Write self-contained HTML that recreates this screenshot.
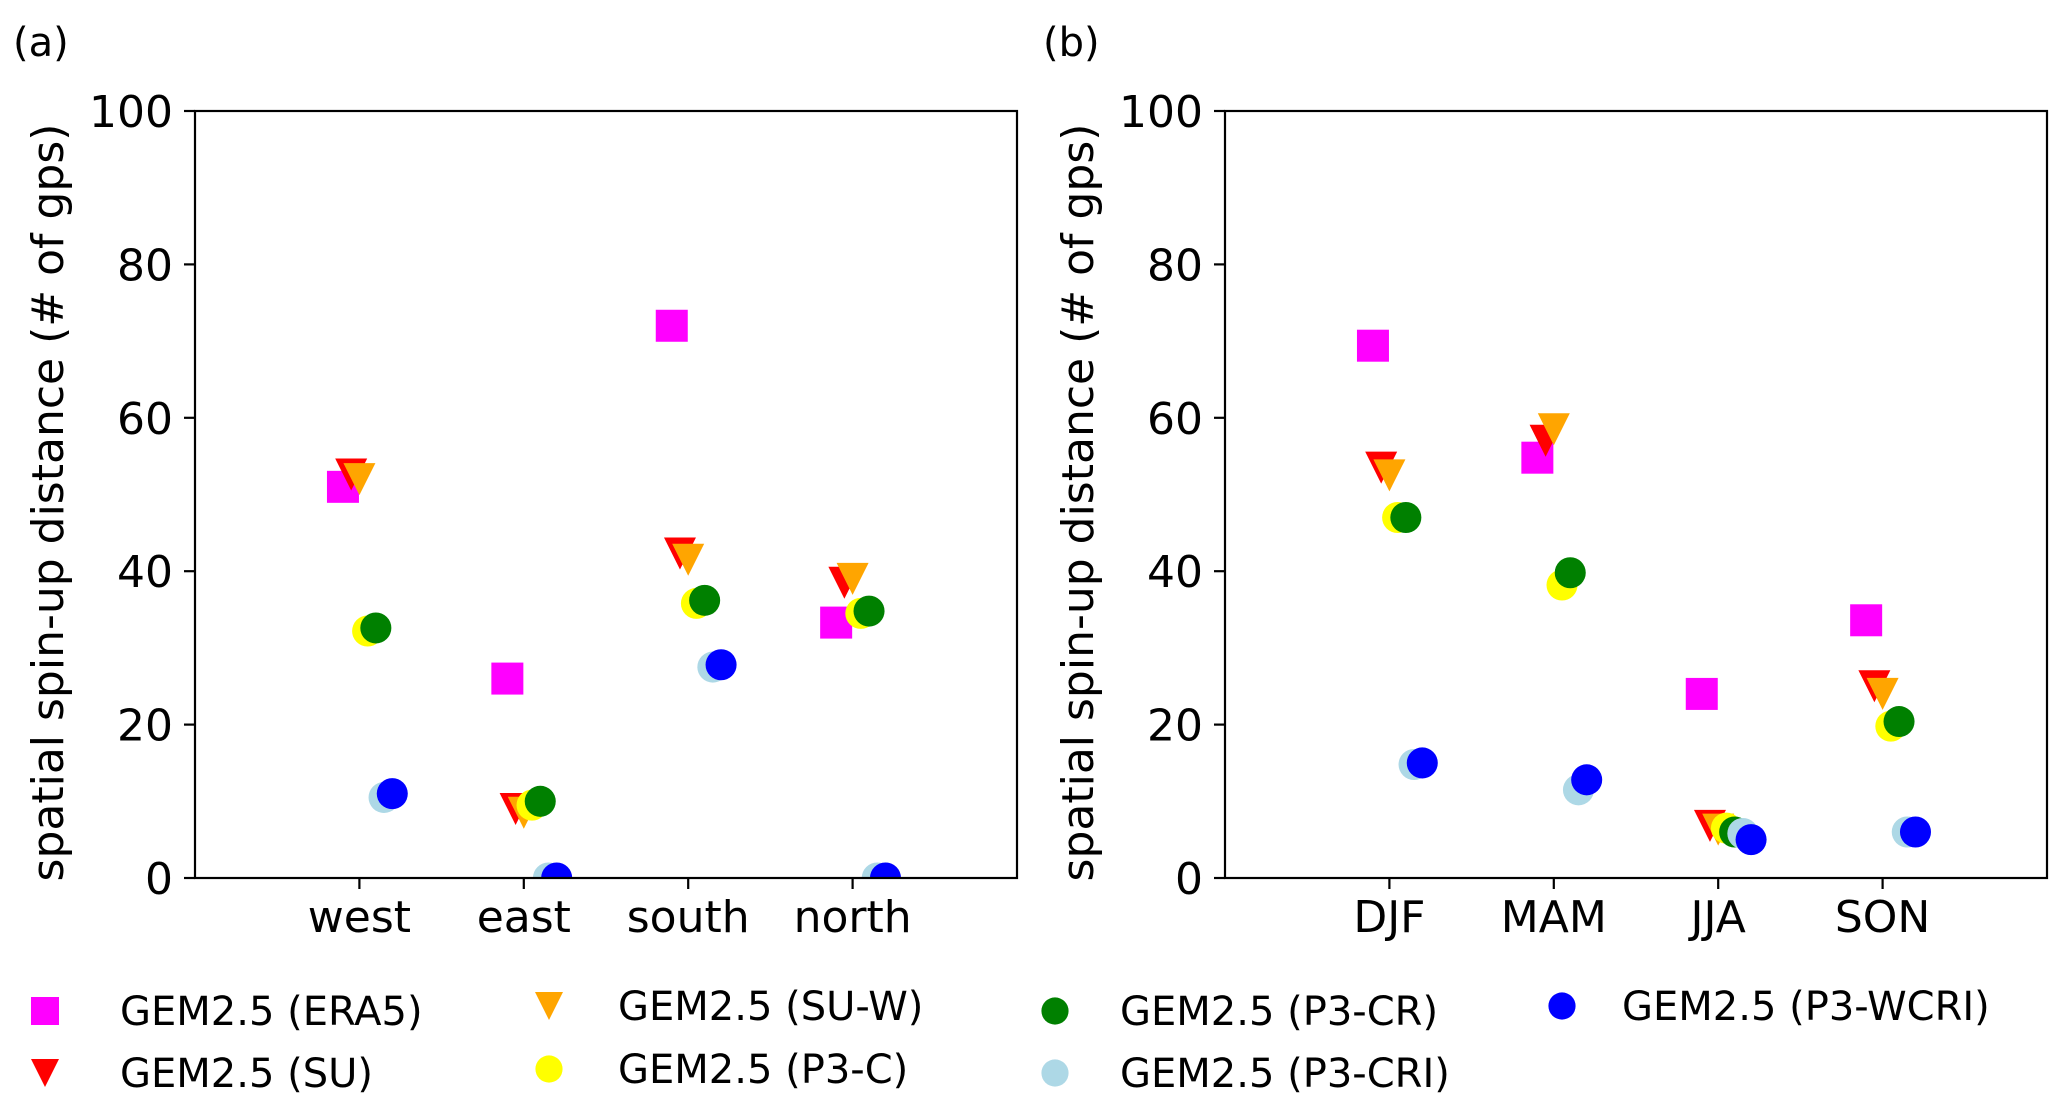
<!DOCTYPE html>
<html><head><meta charset="utf-8">
<style>
html,body{margin:0;padding:0;background:#fff;}
svg{display:block;font-family:"DejaVu Sans","Liberation Sans",sans-serif;}
</style></head>
<body>
<svg id="fig" width="2067" height="1115" viewBox="0 0 2067 1115" xmlns="http://www.w3.org/2000/svg"></svg>
<script>
// ---- data ----
const catsA = ["west","east","south","north"];
const catsB = ["DJF","MAM","JJA","SON"];
const seriesNames = ["GEM2.5 (ERA5)","GEM2.5 (SU)","GEM2.5 (SU-W)","GEM2.5 (P3-C)","GEM2.5 (P3-CR)","GEM2.5 (P3-CRI)","GEM2.5 (P3-WCRI)"];
const era5A = [51, 26, 72, 33.3];
const suA   = [52.6, 9, 42.3, 38.5];
const suwA  = [52, 8.5, 41.5, 39];
const p3cA  = [32.2, 9.5, 35.8, 34.5];
const p3crA = [32.6, 10, 36.2, 34.8];
const p3criA= [10.5, 0, 27.5, 0];
const p3wcriA=[11, 0, 27.8, 0];
const era5B = [69.4, 54.8, 24, 33.6];
const suB   = [53.5, 57, 6.8, 25];
const suwB  = [52.5, 58.5, 6.3, 24];
const p3cB  = [47, 38.2, 6.5, 19.8];
const p3crB = [47, 39.8, 6, 20.4];
const p3criB= [14.8, 11.5, 5.8, 6];
const p3wcriB=[15, 12.8, 5, 6];
const yTicks = [0,20,40,60,80,100];

const colors = ["#ff00ff","#ff0000","#ffa500","#ffff00","#008000","#add8e6","#0000ff"];
const shapes = ["square","tri","tri","circle","circle","circle","circle"];
const offsets = [-0.1,-0.05,0,0.05,0.1,0.15,0.2];
const NS="http://www.w3.org/2000/svg";
const svg=document.getElementById('fig');
function mk(tag,attrs,parent){const e=document.createElementNS(NS,tag);for(const k in attrs)e.setAttribute(k,attrs[k]);(parent||svg).appendChild(e);return e;}

function marker(g,shape,cx,cy,color,s){
  let e;
  if(shape==="square"){e=mk('rect',{x:cx-s,y:cy-s,width:2*s,height:2*s,fill:color},g);}
  else if(shape==="tri"){e=mk('polygon',{points:`${cx-s},${cy-s} ${cx+s},${cy-s} ${cx},${cy+s}`,fill:color},g);}
  else {e=mk('circle',{cx:cx,cy:cy,r:s*0.97,fill:color},g);}
  return e;
}

function panel(id,x0,x1,y0,y1,cats,series,letter,labelX){
  const g=mk('g',{});
  
  
  const xs=v=>x0+(v+1)/5*(x1-x0);
  const ys=v=>y1-v/100*(y1-y0);
  const cp=mk('clipPath',{id:'clip-'+id},g);
  mk('rect',{x:x0,y:y0,width:x1-x0,height:y1-y0},cp);
  const pts=mk('g',{'clip-path':'url(#clip-'+id+')'},g);
  
  
  series.forEach((arr,si)=>{
    arr.forEach((v,ci)=>{
      const m=marker(pts,shapes[si],xs(ci+offsets[si]),ys(v),colors[si],16);
      
      
    });
  });
  const fr=mk('rect',{x:x0,y:y0,width:x1-x0,height:y1-y0,fill:'none',stroke:'#000','stroke-width':2.2},g);
  
  
  yTicks.forEach(t=>{
    const y=ys(t);
    mk('line',{x1:x0-11,x2:x0,y1:y,y2:y,stroke:'#000','stroke-width':2.2},g);
    const tx=mk('text',{x:x0-22,y:y+16,'text-anchor':'end','font-size':44},g);
    tx.textContent=t;
    
    
  });
  cats.forEach((c,i)=>{
    const x=xs(i);
    mk('line',{x1:x,x2:x,y1:y1,y2:y1+11,stroke:'#000','stroke-width':2.2},g);
    const tx=mk('text',{x:x,y:932,'text-anchor':'middle','font-size':44},g);
    tx.textContent=c;
    
    
  });
  const yl=mk('text',{x:0,y:0,'text-anchor':'middle','font-size':44,transform:`translate(${labelX},${(y0+y1)/2+8}) rotate(-90)`},g);
  yl.textContent='spatial spin-up distance (# of gps)';
  
  
  const pl=mk('text',{x:x0-182,y:56,'font-size':40},g);
  pl.textContent=letter;
  
  
}

panel('panel-a',195,1017,111,878,catsA,[era5A,suA,suwA,p3cA,p3crA,p3criA,p3wcriA],'(a)',63);
panel('panel-b',1225,2047,111,878,catsB,[era5B,suB,suwB,p3cB,p3crB,p3criB,p3wcriB],'(b)',1093);

// legend
const leg=mk('g',{});


const legPos=[[45,120,1011],[45,120,1073],[549,618,1006],[549,618,1069],[1055,1120,1011],[1055,1120,1073],[1562,1622,1006]];
seriesNames.forEach((n,i)=>{
  const [mx,tx,y]=legPos[i];
  const e=mk('g',{},leg);
  
  
  marker(e,shapes[i],mx,y,colors[i],14);
  const t=mk('text',{x:tx,y:y+14,'font-size':40},e);
  t.textContent=n;
});
</script>
</body></html>
